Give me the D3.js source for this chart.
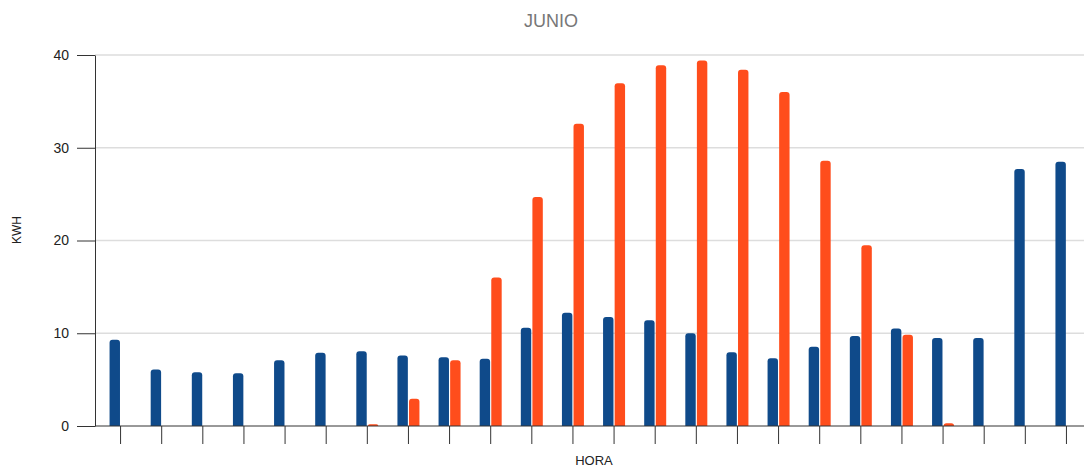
<!DOCTYPE html>
<html>
<head>
<meta charset="utf-8">
<script src="https://cdn.jsdelivr.net/npm/d3@7"></script>
<style>
  body { margin: 0; background: #fff; }
  text { font-family: "Liberation Sans", Arial, sans-serif; }
  .title { font-size: 18px; fill: #777; }
  .axis-label { font-size: 12px; fill: #222; }
  .tick text { font-size: 14px; fill: #222; }
</style>
</head>
<body>
<svg width="1084" height="473"></svg>
<script>
const horas = d3.range(0, 24);
const consumo = [9.3, 6.1, 5.8, 5.7, 7.1, 7.9, 8.05, 7.6, 7.4, 7.25, 10.6, 12.2,
                 11.75, 11.4, 10.0, 7.95, 7.3, 8.55, 9.7, 10.5, 9.5, 9.5, 27.7, 28.5];
const generacion = [0, 0, 0, 0, 0, 0, 0.2, 2.95, 7.1, 16.0, 24.7, 32.6,
                    36.95, 38.9, 39.4, 38.4, 36.0, 28.6, 19.5, 9.85, 0.3, 0, 0, 0];
const yTicks = [0, 10, 20, 30, 40];
const series = ['consumo', 'generacion'];
const colores = { consumo: '#0f4a8a', generacion: '#ff4d1c' };

const svg = d3.select('svg');
const width = +svg.attr('width');
const height = +svg.attr('height');

const margin = { top: 55, right: -3, bottom: 47, left: 95 };
const innerWidth = width - margin.left - margin.right;
const innerHeight = height - margin.top - margin.bottom;

const g = svg.append('g')
    .attr('transform', `translate(${margin.left},${margin.top})`);

const xScale = d3.scaleBand()
    .domain(horas)
    .range([5, innerWidth]);

const xInner = d3.scaleBand()
    .domain(series)
    .range([-11, 11])
    .paddingInner(0.1);

const yScale = d3.scaleLinear()
    .domain([0, 40])
    .range([innerHeight, 0]);

// grid
g.selectAll('.grid').data(yTicks.filter(d => d > 0))
  .enter().append('line')
    .attr('class', 'grid')
    .attr('x1', 0)
    .attr('x2', width - margin.left)
    .attr('y1', d => yScale(d))
    .attr('y2', d => yScale(d))
    .attr('stroke', '#ddd')
    .attr('stroke-width', 1.5);

const yAxis = d3.axisLeft(yScale)
    .tickValues(yTicks)
    .tickSize(18)
    .tickPadding(8)
    .tickSizeOuter(0);

const yAxisG = g.append('g').call(yAxis);
yAxisG.selectAll('line, path').attr('stroke', '#333');

yAxisG.append('text')
    .attr('class', 'axis-label')
    .attr('transform', 'rotate(-90)')
    .attr('x', -(230 - margin.top))
    .attr('y', -74)
    .attr('text-anchor', 'middle')
    .text('KWH');

const xAxis = d3.axisBottom(xScale)
    .tickSize(18)
    .tickSizeOuter(0);

const xAxisG = g.append('g')
    .attr('transform', `translate(0,${innerHeight})`)
    .call(xAxis);
xAxisG.selectAll('.tick text').remove();
xAxisG.select('.domain').attr('d', `M0,0H${width - margin.left}`);
xAxisG.selectAll('line, path').attr('stroke', '#333');

xAxisG.append('text')
    .attr('class', 'axis-label')
    .attr('x', 594 - margin.left)
    .attr('y', 39)
    .attr('text-anchor', 'middle')
    .style('font-size', '13px')
    .text('HORA');

// bars with rounded tops
const topRounded = (x, y, w, h, r) => {
  r = Math.min(r, h, w / 2);
  return `M${x},${y + h}V${y + r}Q${x},${y} ${x + r},${y}H${x + w - r}Q${x + w},${y} ${x + w},${y + r}V${y + h}Z`;
};

const rows = horas.map((h, i) => ({ hora: h, consumo: consumo[i], generacion: generacion[i] }));

const groups = g.selectAll('.grupo').data(rows)
  .enter().append('g')
    .attr('class', 'grupo')
    .attr('transform', d => `translate(${xScale(d.hora) + xScale.bandwidth() / 2},0)`);

groups.selectAll('path').data(d => series.map(s => ({ key: s, value: d[s] })).filter(d => d.value > 0))
  .enter().append('path')
    .attr('fill', d => colores[d.key])
    .attr('d', d => topRounded(xInner(d.key), yScale(d.value), xInner.bandwidth(),
                               innerHeight - yScale(d.value), 3));

xAxisG.raise();

svg.append('text')
    .attr('class', 'title')
    .attr('x', 551)
    .attr('y', 27)
    .attr('text-anchor', 'middle')
    .text('JUNIO');
</script>
</body>
</html>
